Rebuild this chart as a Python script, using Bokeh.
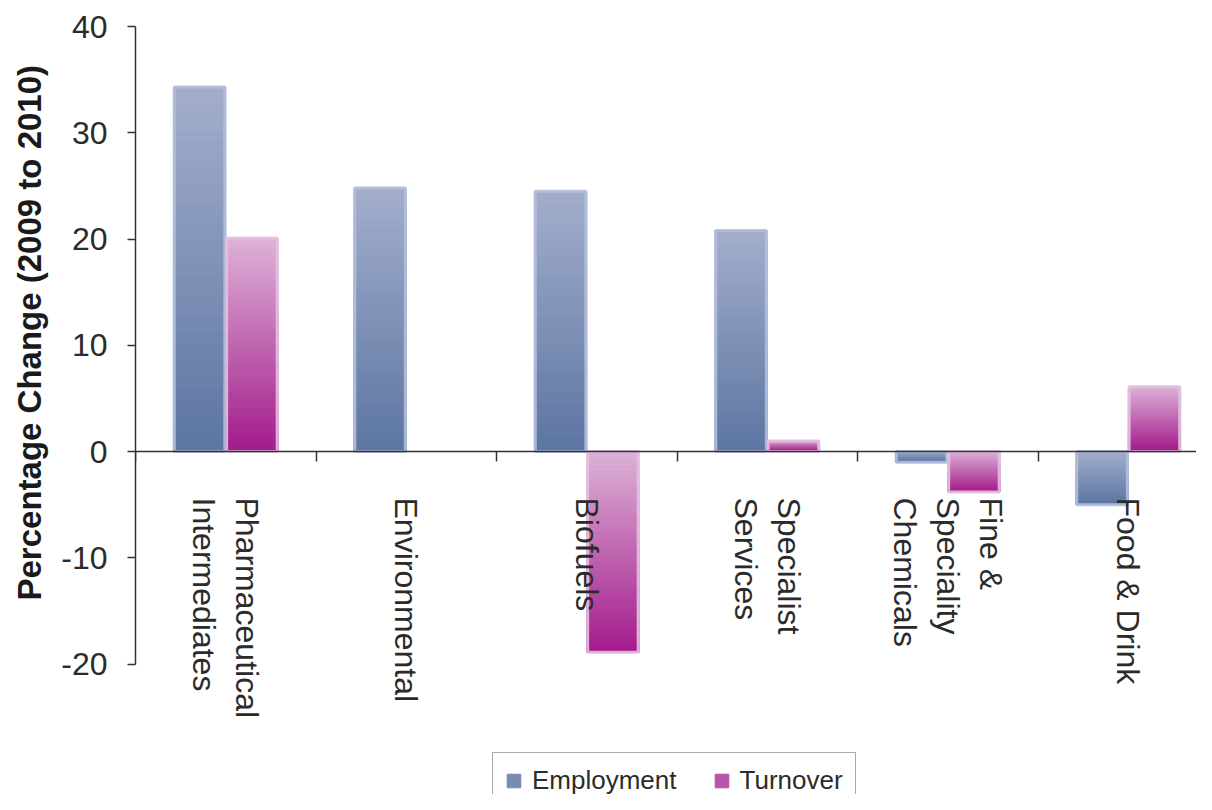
import numpy as np
from bokeh.plotting import figure
from bokeh.models import (ColumnDataSource, Range1d, LinearAxis, FixedTicker,
                          Legend, LegendItem, CustomJSTickFormatter, Title)
from bokeh.core.properties import value
from bokeh.embed import file_html
from bokeh.resources import INLINE

# ---------------- data ----------------
categories = ["Pharmaceutical\nIntermediates", "Environmental", "Biofuels",
              "Specialist\nServices", "Fine &\nSpeciality\nChemicals", "Food & Drink"]
employment = [34.3, 24.8, 24.5, 20.8, -1.0, -5.0]
turnover = [20.1, 0.0, -18.9, 1.0, -3.8, 6.1]
series_names = ["Employment", "Turnover"]
y_ticks = [-20, -10, 0, 10, 20, 30, 40]
y_label = "Percentage Change (2009 to 2010)"

# ---------------- styles ----------------
FONT = "Liberation Sans"
TEXT = "#2b2b2b"
grad = {
    "Employment": ("#a3aecc", "#5c75a2", "#b3bedb"),
    "Turnover": ("#ddb3d7", "#a31a8b", "#e3c0e0"),
}
BAR_W = 0.29
OFFS = {"Employment": -0.145, "Turnover": 0.145}
N_SLICES = 40

W, H = 1196, 794
LEFT, TOP = 135, 26
PX_PER_CAT = 180.5
PX_PER_UNIT = 10.625


def hex2rgb(h):
    h = h.lstrip("#")
    return np.array([int(h[i:i + 2], 16) for i in (0, 2, 4)], dtype=float)


def rgb2hex(c):
    return "#%02x%02x%02x" % tuple(int(round(v)) for v in c)


y_top = max(y_ticks)
y_bot = y_top - (H - TOP) / PX_PER_UNIT
x_right = (W - LEFT) / PX_PER_CAT

p = figure(width=W, height=H,
           x_range=Range1d(0, x_right), y_range=Range1d(y_bot, y_top),
           output_backend="svg", toolbar_location=None,
           x_axis_location=None, y_axis_location=None,
           min_border_left=LEFT, min_border_right=0,
           min_border_top=TOP, min_border_bottom=0)
p.outline_line_color = None
p.xgrid.visible = False
p.ygrid.visible = False
p.background_fill_color = "white"

legend_items = []
for name, vals in zip(series_names, [employment, turnover]):
    light, dark, outline = grad[name]
    c0, c1 = hex2rgb(light), hex2rgb(dark)
    xs, tops, bots, cols = [], [], [], []
    ox, ot, ob = [], [], []
    for i, v in enumerate(vals):
        x = i + 0.5 + OFFS[name]
        hi, lo = max(0.0, v), min(0.0, v)
        if hi == lo:
            continue
        for k in range(N_SLICES):
            t = hi - (hi - lo) * k / N_SLICES
            b = hi - (hi - lo) * (k + 1) / N_SLICES
            f = (k + 0.5) / N_SLICES
            xs.append(x); tops.append(t); bots.append(b)
            cols.append(rgb2hex(c0 + (c1 - c0) * f))
        ox.append(x); ot.append(hi); ob.append(lo)
    src = ColumnDataSource(dict(x=xs, top=tops, bottom=bots, color=cols))
    r = p.vbar(x="x", top="top", bottom="bottom", width=BAR_W, source=src,
               fill_color="color", line_color="color", line_width=1)
    p.vbar(x=ox, top=ot, bottom=ob, width=BAR_W - 0.01, fill_color=None,
           line_color=outline, line_width=3, line_alpha=0.9)
    legend_items.append(LegendItem(label=name, renderers=[r],
                                   index=int(N_SLICES * 0.6)))

# y axis
yax = LinearAxis(ticker=FixedTicker(ticks=y_ticks),
                 bounds=(min(y_ticks), max(y_ticks)),
                 formatter=CustomJSTickFormatter(code="return tick.toFixed(0);"))
yax.axis_line_color = "#333333"
yax.axis_line_width = 1.5
yax.major_tick_line_color = "#333333"
yax.major_tick_line_width = 1.5
yax.major_tick_out = 8
yax.major_tick_in = 0
yax.minor_tick_line_color = None
yax.major_label_text_font = FONT
yax.major_label_text_font_size = "32px"
yax.major_label_text_color = TEXT
yax.major_label_standoff = 20
p.add_layout(yax, "left")

# y axis title (starts near the -20 level and reads upwards)
ytitle = Title(text=y_label, align="left", vertical_align="top", offset=194,
               text_font=FONT, text_font_size="33px", text_font_style="bold",
               text_color="#1a1a1a", standoff=17)
p.add_layout(ytitle, "left")

# x axis at zero
xax = LinearAxis(ticker=FixedTicker(ticks=list(range(0, len(categories) + 1))),
                 fixed_location=0)
xax.axis_line_color = "#333333"
xax.axis_line_width = 1.5
xax.major_tick_line_color = "#333333"
xax.major_tick_line_width = 1.5
xax.major_tick_out = 10
xax.major_tick_in = 0
xax.minor_tick_line_color = None
xax.major_label_text_font_size = "0px"
p.add_layout(xax, "below")

# category labels (rotated clockwise, reading downwards)
lab_src = ColumnDataSource(dict(x=[i + 0.5 for i in range(len(categories))],
                                y=[0] * len(categories), text=categories))
p.text(x="x", y="y", text="text", source=lab_src, angle=-np.pi / 2,
       text_align="left", text_baseline="middle", y_offset=46,
       text_font=value(FONT), text_font_size="32px", text_color=TEXT,
       text_line_height=1.2)

legend = Legend(items=legend_items, orientation="horizontal",
                location=(492 - LEFT, -15))
legend.label_text_font = FONT
legend.label_text_font_size = "26px"
legend.label_text_color = TEXT
legend.glyph_width = 17
legend.glyph_height = 17
legend.label_standoff = 10
legend.spacing = 36
legend.padding = 12
legend.margin = 0
legend.border_line_color = "#555555"
legend.border_line_width = 1.5
legend.background_fill_color = "white"
legend.background_fill_alpha = 1
p.add_layout(legend, "center")

open("out.html", "w").write(file_html(p, INLINE))
